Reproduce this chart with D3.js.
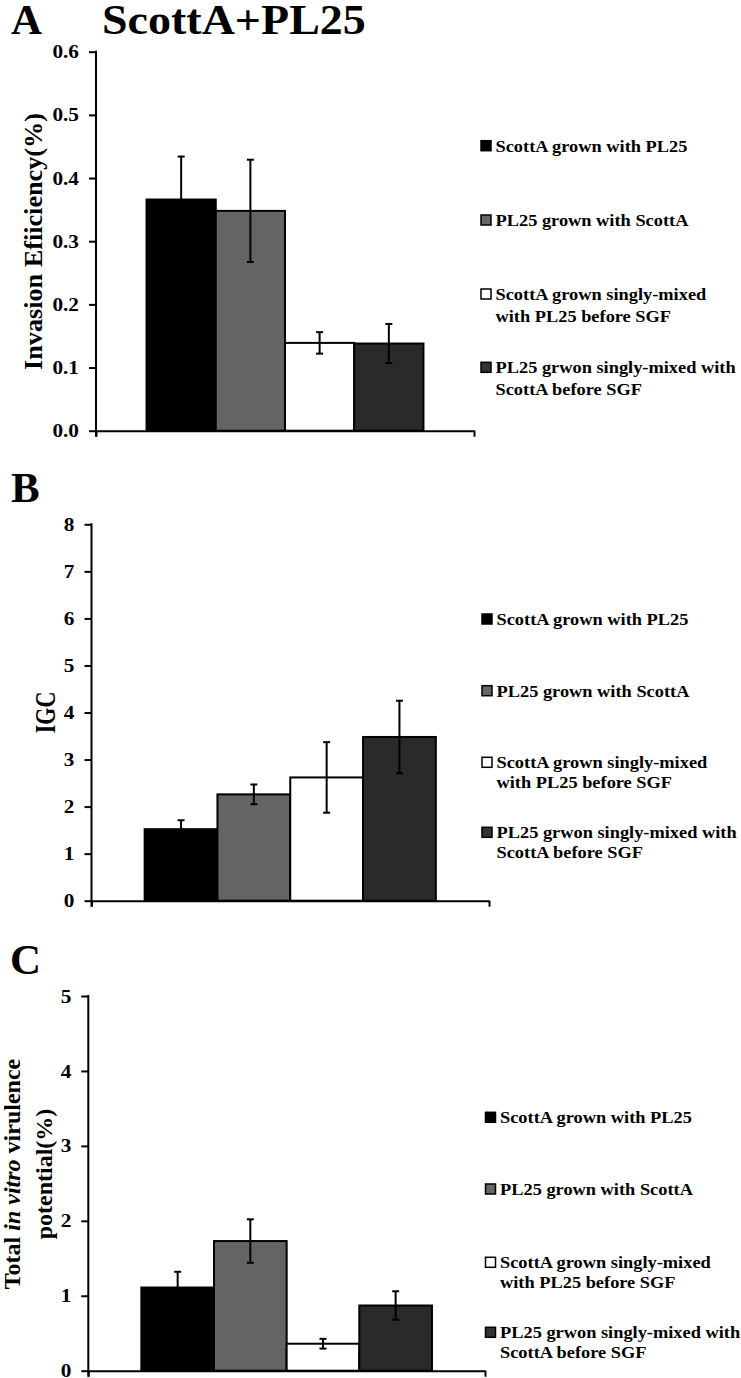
<!DOCTYPE html>
<html>
<head>
<meta charset="utf-8">
<script src="https://cdn.jsdelivr.net/npm/d3@7"></script>
<style>
  html, body { margin: 0; padding: 0; background: #fff; }
  svg { display: block; }
</style>
</head>
<body>
<svg id="chart" width="741" height="1378"></svg>
<script>
// ---- data ----
const seriesNames = [
  "ScottA grown with PL25",
  "PL25 grown with ScottA",
  "ScottA grown singly-mixed with PL25 before SGF",
  "PL25 grwon singly-mixed with ScottA before SGF"
];
const legendLines = [
  ["ScottA grown with PL25"],
  ["PL25 grown with ScottA"],
  ["ScottA grown singly-mixed", "with PL25 before SGF"],
  ["PL25 grwon singly-mixed with", "ScottA before SGF"]
];
const seriesColors = ["#000000", "#646464", "#ffffff", "#2a2a2a"];
const legendColors = ["#000000", "#666666", "#ffffff", "#333333"];

const invasionValues = [0.366, 0.348, 0.139, 0.138];
const invasionErrors = [0.068, 0.081, 0.017, 0.031];
const invasionTicks = [0, 0.1, 0.2, 0.3, 0.4, 0.5, 0.6];

const igcValues = [1.52, 2.26, 2.62, 3.48];
const igcErrors = [0.19, 0.21, 0.75, 0.77];
const igcTicks = [0, 1, 2, 3, 4, 5, 6, 7, 8];

const virulenceValues = [1.11, 1.73, 0.36, 0.87];
const virulenceErrors = [0.21, 0.29, 0.065, 0.19];
const virulenceTicks = [0, 1, 2, 3, 4, 5];

const panelLetters = ["A", "B", "C"];
const titleText = "ScottA+PL25";

// ---- drawing ----
const FONT = "'Liberation Serif', 'Times New Roman', Times, 'DejaVu Serif', serif";
const svg = d3.select("#chart");
const SX = 1.12; // horizontal text stretch seen in reference

function txt(sel) {
  return sel.attr("font-family", FONT).attr("font-weight", "bold").attr("fill", "#000");
}

function panel(cfg) {
  const g = svg.append("g");
  const y = d3.scaleLinear().domain([0, cfg.max]).range([cfg.y0, cfg.yTop]);
  const x = d3.scaleBand().domain(seriesNames).range([cfg.x0, cfg.x1])
    .paddingInner(0).paddingOuter(0.73);
  const cx = i => x(seriesNames[i]) + x.bandwidth() / 2;

  // bars
  g.selectAll("rect.bar").data(cfg.values).enter().append("rect")
    .attr("class", "bar")
    .attr("x", (d, i) => x(seriesNames[i]))
    .attr("width", x.bandwidth())
    .attr("y", d => y(d))
    .attr("height", d => y(0) - y(d))
    .attr("fill", (d, i) => seriesColors[i])
    .attr("stroke", "#000").attr("stroke-width", 2);

  // error bars
  const eb = g.selectAll("g.err").data(cfg.values).enter().append("g").attr("class", "err");
  eb.append("line")
    .attr("x1", (d, i) => cx(i)).attr("x2", (d, i) => cx(i))
    .attr("y1", (d, i) => y(d - cfg.errors[i]))
    .attr("y2", (d, i) => y(d + cfg.errors[i]))
    .attr("stroke", "#000").attr("stroke-width", 2);
  [-1, 1].forEach(s => {
    eb.append("line")
      .attr("x1", (d, i) => cx(i) - 3.5).attr("x2", (d, i) => cx(i) + 3.5)
      .attr("y1", (d, i) => y(d + s * cfg.errors[i]))
      .attr("y2", (d, i) => y(d + s * cfg.errors[i]))
      .attr("stroke", "#000").attr("stroke-width", 2);
  });

  // y axis
  const ya = g.append("g").attr("transform", `translate(${cfg.x0},0)`)
    .call(d3.axisLeft(y).tickValues(cfg.ticks).tickFormat(cfg.fmt)
      .tickSize(7).tickSizeOuter(0).tickPadding(10));
  ya.attr("font-family", FONT);
  ya.select(".domain").attr("stroke", "#000").attr("stroke-width", 2)
    .attr("d", `M0,${y(cfg.max) - 1}V${y(0) + 6}`);
  ya.selectAll(".tick line").attr("stroke", "#000").attr("stroke-width", 2);
  txt(ya.selectAll(".tick text"))
    .attr("font-size", 19)
    .attr("x", 0)
    .attr("transform", `translate(-17,0) scale(${SX},1)`);

  // x axis (line with end ticks)
  const xl = d3.scaleLinear().domain([0, 1]).range([cfg.x0, cfg.x1]);
  const xa = g.append("g").attr("transform", `translate(0,${cfg.y0})`)
    .call(d3.axisBottom(xl).tickValues([0, 1]).tickFormat("").tickSize(6).tickSizeOuter(0));
  xa.select(".domain").attr("stroke", "#000").attr("stroke-width", 2);
  xa.selectAll(".tick line").attr("stroke", "#000").attr("stroke-width", 2);

  // y label
  if (cfg.labelLines) {
    cfg.labelLines.forEach((ln, k) => {
      const t = txt(g.append("text")).attr("text-anchor", "middle").attr("font-size", cfg.labelSize)
        .attr("transform", `translate(${cfg.labelX[k]},${cfg.labelY}) scale(${cfg.labelSX},1) rotate(-90)`);
      ln.forEach(seg => {
        t.append("tspan").text(seg.t).attr("font-style", seg.it ? "italic" : null);
      });
    });
  } else {
    const lab = txt(g.append("text")).attr("text-anchor", "middle").attr("font-size", cfg.labelSize)
      .attr("transform", `translate(${cfg.labelX},${cfg.labelY}) scale(${cfg.labelSX},1) rotate(-90)`)
      .text(cfg.label);
    if (cfg.labelLen) lab.attr("textLength", cfg.labelLen).attr("lengthAdjust", "spacingAndGlyphs");
  }

  // legend
  const lg = g.append("g");
  legendLines.forEach((lines, i) => {
    const b = cfg.legendBase[i];
    lg.append("rect")
      .attr("x", cfg.legX).attr("y", b - 11)
      .attr("width", 10).attr("height", 10)
      .attr("fill", legendColors[i]).attr("stroke", "#000").attr("stroke-width", 1.5);
    lines.forEach((ln, k) => {
      txt(lg.append("text"))
        .attr("transform", `translate(${cfg.legX + 14.5},${b + k * cfg.legLine}) scale(1.08,1)`)
        .attr("font-size", 17)
        .text(ln);
    });
  });

  // panel letter
  txt(svg.append("text")).attr("x", cfg.letterX).attr("y", cfg.letterY)
    .attr("font-size", 43).text(cfg.letter);
}

panel({
  letter: panelLetters[0], letterX: 11, letterY: 34,
  values: invasionValues, errors: invasionErrors, ticks: invasionTicks, max: 0.6,
  fmt: d3.format(".1f"),
  x0: 96, x1: 474, y0: 430.7, yTop: 51.7,
  label: "Invasion Efiiciency(%)", labelX: 42, labelY: 241.5, labelSize: 25, labelSX: 1.0, labelLen: 257,
  legX: 481, legendBase: [151.7, 226, 300, 373.3], legLine: 21.7
});

panel({
  letter: panelLetters[1], letterX: 11, letterY: 501.5,
  values: igcValues, errors: igcErrors, ticks: igcTicks, max: 8,
  fmt: d3.format("d"),
  x0: 91.5, x1: 489, y0: 900.7, yTop: 524.3,
  label: "IGC", labelX: 55, labelY: 712.5, labelSize: 22, labelSX: 1.3,
  legX: 482, legendBase: [625, 696.7, 768.3, 838.3], legLine: 20
});

panel({
  letter: panelLetters[2], letterX: 10, letterY: 974,
  values: virulenceValues, errors: virulenceErrors, ticks: virulenceTicks, max: 5,
  fmt: d3.format("d"),
  x0: 88.3, x1: 485, y0: 1370.7, yTop: 996,
  labelLines: [
    [{t: "Total "}, {t: "in vitro", it: true}, {t: " virulence"}],
    [{t: "potential(%)"}]
  ],
  labelX: [20, 52], labelY: 1174, labelSize: 24, labelSX: 1.0,
  legX: 485.5, legendBase: [1123.3, 1195, 1268.3, 1338.3], legLine: 19.5
});

// title
txt(svg.append("text"))
  .attr("transform", `translate(102,34) scale(1.07,1)`)
  .attr("font-size", 43)
  .text(titleText);
</script>
</body>
</html>
